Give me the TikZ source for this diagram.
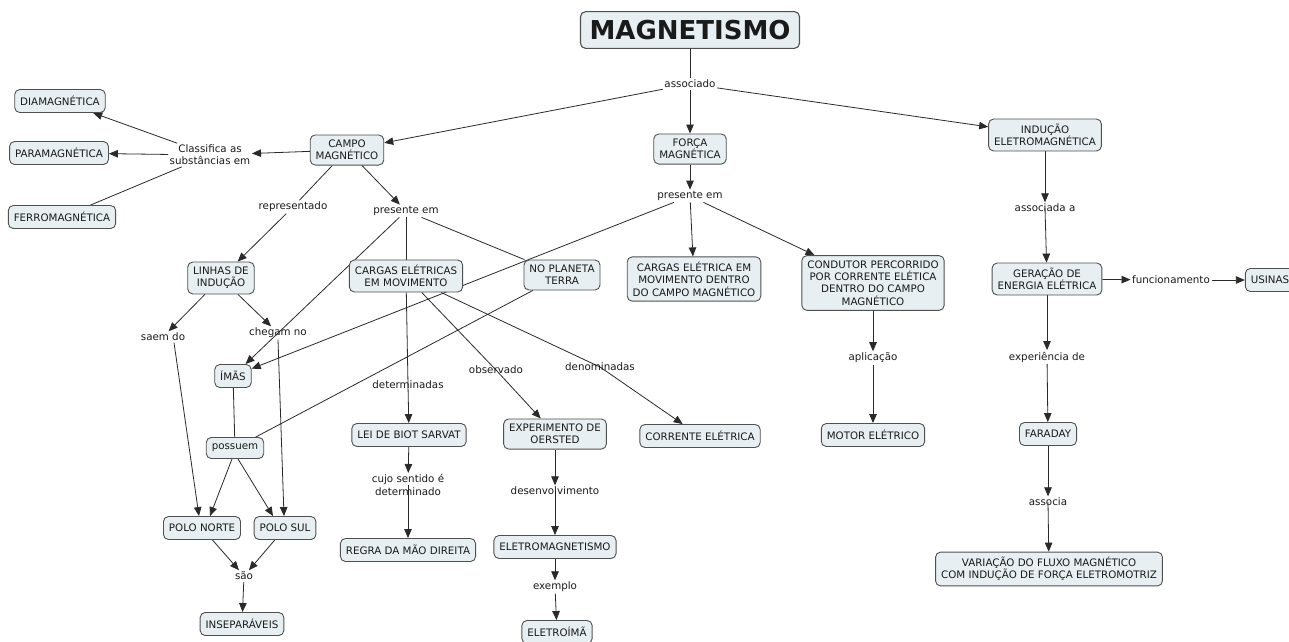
\documentclass[tikz,border=0pt]{standalone}
\usepackage{fontspec}
\setmainfont{DejaVu Sans}
\usetikzlibrary{arrows.meta,backgrounds}
\definecolor{boxfill}{HTML}{E8EFF2}
\definecolor{boxline}{HTML}{505050}
\definecolor{edgecol}{HTML}{2A2A2A}
\definecolor{txt}{HTML}{1A1A1A}
\tikzset{
  concept/.style={draw=boxline, fill=boxfill, rounded corners=5pt, line width=0.9pt,
    align=center, inner xsep=5.5pt, inner ysep=5pt, minimum height=23pt,
    font=\fontsize{10.3}{12.3}\selectfont, text=txt},
  linkword/.style={align=center, inner sep=1.5pt,
    font=\fontsize{10.3}{12.3}\selectfont, text=txt},
  conn/.style={draw=edgecol, line width=0.8pt},
  arr/.style={conn, -{Triangle[length=9pt,width=7.5pt]}},
}
\begin{document}
\begin{tikzpicture}[x=1pt,y=-1pt]
\useasboundingbox (0,0) rectangle (1289,641);

% concepts
\node[concept, font=\fontsize{26}{30}\selectfont\bfseries, inner xsep=9pt, inner ysep=8.5pt, line width=1.1pt] (mag) at (690,30) {MAGNETISMO};
\node[concept] (campo) at (347,150) {CAMPO\\MAGNÉTICO};
\node[concept] (forca) at (690,149) {FORÇA\\MAGNÉTICA};
\node[concept] (inducao) at (1045,135) {INDUÇÃO\\ELETROMAGNÉTICA};
\node[concept] (dia) at (60,101) {DIAMAGNÉTICA};
\node[concept] (para) at (59,153) {PARAMAGNÉTICA};
\node[concept] (ferro) at (62,217) {FERROMAGNÉTICA};
\node[concept] (linhas) at (221,278) {LINHAS DE\\INDUÇÃO};
\node[concept] (cargas) at (406,276) {CARGAS ELÉTRICAS\\EM MOVIMENTO};
\node[concept] (planeta) at (562,275) {NO PLANETA\\TERRA};
\node[concept] (cargasdentro) at (694,279) {CARGAS ELÉTRICA EM\\MOVIMENTO DENTRO\\DO CAMPO MAGNÉTICO};
\node[concept] (condutor) at (873,283) {CONDUTOR PERCORRIDO\\POR CORRENTE ELÉTICA\\DENTRO DO CAMPO\\MAGNÉTICO};
\node[concept] (geracao) at (1047,279) {GERAÇÃO DE\\ENERGIA ELÉTRICA};
\node[concept] (usinas) at (1270,280) {USINAS};
\node[concept] (imas) at (233,376) {ÍMÃS};
\node[concept, minimum height=21pt] (possuem) at (235,448) {possuem};
\node[concept] (norte) at (202,528) {POLO NORTE};
\node[concept] (sul) at (285,528) {POLO SUL};
\node[concept] (insep) at (242,624) {INSEPARÁVEIS};
\node[concept] (biot) at (409,435) {LEI DE BIOT SARVAT};
\node[concept] (regra) at (408,550) {REGRA DA MÃO DIREITA};
\node[concept] (oersted) at (555,434) {EXPERIMENTO DE\\OERSTED};
\node[concept] (eletromag) at (555,547) {ELETROMAGNETISMO};
\node[concept] (eletroima) at (557,632) {ELETROÍMÃ};
\node[concept] (corrente) at (700,436) {CORRENTE ELÉTRICA};
\node[concept] (motor) at (873,435) {MOTOR ELÉTRICO};
\node[concept] (faraday) at (1048,434) {FARADAY};
\node[concept] (variacao) at (1049,569) {VARIAÇÃO DO FLUXO MAGNÉTICO\\COM INDUÇÃO DE FORÇA ELETROMOTRIZ};

% linking phrases
\node[linkword] (associado) at (690,84) {associado};
\node[linkword] (classifica) at (210,155) {Classifica as\\substâncias em};
\node[linkword] (representado) at (293,207) {representado};
\node[linkword] (presC) at (406,211) {presente em};
\node[linkword] (presF) at (690,196) {presente em};
\node[linkword] (saem) at (163,337) {saem do};
\node[linkword] (chegam) at (278,333) {chegam no};
\node[linkword] (sao) at (244,576) {são};
\node[linkword] (determinadas) at (408,385) {determinadas};
\node[linkword] (observado) at (496,370) {observado};
\node[linkword] (denominadas) at (600,367) {denominadas};
\node[linkword] (cujo) at (408,485) {cujo sentido é\\determinado};
\node[linkword] (desenv) at (555,491) {desenvolvimento};
\node[linkword] (exemplo) at (555,587) {exemplo};
\node[linkword] (aplicacao) at (873,358) {aplicação};
\node[linkword] (associadaa) at (1045,208) {associada a};
\node[linkword] (funcionamento) at (1171,280) {funcionamento};
\node[linkword] (experiencia) at (1047,357) {experiência de};
\node[linkword] (associa) at (1048,502) {associa};

\begin{pgfonlayer}{background}
\fill[white] (0,0) rectangle (1289,641);
% top level
\draw[conn] (mag) -- (associado);
\draw[arr] (associado) -- (campo);
\draw[arr] (associado) -- (forca);
\draw[arr] (associado) -- (inducao);
% classification of substances
\draw[arr] (campo) -- (classifica);
\draw[arr] (classifica) -- (dia);
\draw[arr] (classifica) -- (para);
\draw[conn] (classifica) -- (ferro);
% field lines and magnets
\draw[conn] (campo) -- (representado);
\draw[arr] (representado) -- (linhas);
\draw[arr] (campo) -- (presC);
\draw[arr] (presC) -- (imas);
\draw[conn] (presC) -- (cargas);
\draw[conn] (presC) -- (planeta);
\draw[arr] (linhas) -- (saem);
\draw[arr] (linhas) -- (chegam);
\draw[arr] ([xshift=11pt]saem.south) -- ([xshift=-3pt]norte.north);
\draw[arr] (chegam.south) -- ([xshift=-1pt]sul.north);
\draw[conn] (imas) -- (possuem);
\draw[conn] (planeta) -- (possuem);
\draw[arr] ([xshift=-3pt]possuem.south) -- ([xshift=8pt]norte.north);
\draw[arr] ([xshift=3pt]possuem.south) -- ([xshift=-12pt]sul.north);
\draw[arr] (norte) -- (sao);
\draw[arr] (sul) -- (sao);
\draw[arr] (sao) -- (insep);
% moving charges
\draw[conn] (cargas) -- (determinadas.center);
\draw[arr] (determinadas.center) -- (biot);
\draw[arr] (biot) -- (cujo);
\draw[arr] (cujo.center) -- (regra);
\draw[conn] (cargas) -- (observado.center);
\draw[arr] (observado.center) -- (oersted);
\draw[conn] (cargas) -- (denominadas.center);
\draw[arr] (denominadas.center) -- (corrente);
\draw[arr] (oersted) -- (desenv);
\draw[arr] (desenv.center) -- (eletromag);
\draw[arr] (eletromag) -- (exemplo);
\draw[arr] (exemplo) -- (eletroima);
% magnetic force
\draw[arr] (forca) -- (presF);
\draw[arr] (presF) -- (imas);
\draw[arr] (presF) -- (cargasdentro);
\draw[arr] (presF) -- (condutor);
\draw[arr] (condutor) -- (aplicacao);
\draw[arr] (aplicacao) -- (motor);
% electromagnetic induction
\draw[arr] (inducao) -- (associadaa);
\draw[arr] (associadaa.center) -- (geracao);
\draw[arr] (geracao) -- (funcionamento);
\draw[arr] (funcionamento) -- (usinas);
\draw[arr] (geracao) -- (experiencia);
\draw[arr] (experiencia) -- (faraday);
\draw[arr] (faraday) -- (associa);
\draw[arr] (associa.center) -- (variacao);
\end{pgfonlayer}
\end{tikzpicture}
\end{document}
